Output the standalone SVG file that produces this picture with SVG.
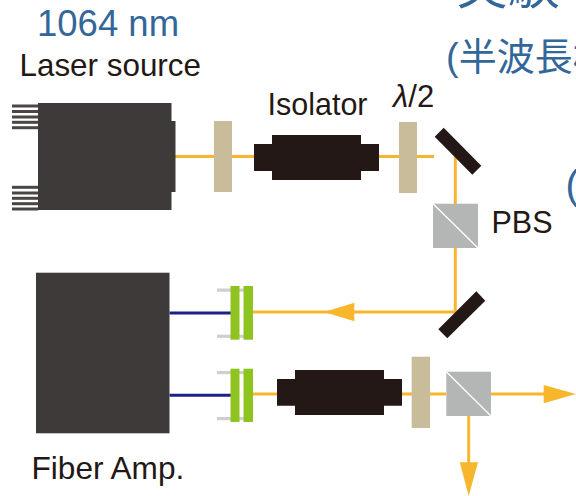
<svg xmlns="http://www.w3.org/2000/svg" width="576" height="496" viewBox="0 0 576 496">
<style>
text{font-family:"Liberation Sans",Arial,sans-serif;fill:#231815}
.blue{fill:#336699}
.cjk{font-family:"Liberation Sans","Noto Sans CJK JP",sans-serif;fill:#336699}
.body{fill:#3e3a39}
.dark{fill:#231815}
.plate{fill:#c8bc9b}
.cube{fill:#b4b6b5}
.split{stroke:#fff;stroke-width:1.3;fill:none}
.green{fill:#8fc31f}
.post{fill:#cfcfcf}
.beam{stroke:#f8b62d;stroke-width:3;fill:none}
.fiber{stroke:#1d2088;stroke-width:3;fill:none}
.head{fill:#f8b62d}
.pin{fill:#4a4645}
</style>
<rect width="576" height="496" fill="#fff"/>
<g id="connectors">
<path class="beam" d="M175 156.500H434M455.300 156.500V312H253"/>
<path class="beam" d="M253 394H446M491 394H545"/>
<path class="beam" d="M468.700 416V464"/>
<path class="head" d="M324 312L354.300 302.700V321.300Z"/>
<path class="head" d="M576 394L543.700 385V403.300Z"/>
<path class="head" d="M468.700 496L459.700 462.300H478Z"/>
<path class="fiber" d="M169.500 313H231M169.500 395.300H231"/>
</g>
<g id="title"><text class="blue" x="37" y="36" font-size="36.500">1064 nm</text></g>
<g id="cropped-title"><text class="cjk" x="456" y="4" font-size="52">実験</text></g>
<g id="cropped-subtitle"><text class="cjk" x="446" y="70" font-size="38">(半波長板</text></g>
<g id="cropped-paren"><text class="cjk" x="565.500" y="199" font-size="40">(</text></g>
<g id="laser-source">
<text x="19.500" y="76" font-size="31.400">Laser source</text>
<g class="pin">
<rect x="12" y="104.500" width="26" height="3"/><rect x="12" y="110" width="26" height="3"/><rect x="12" y="115.500" width="26" height="3"/><rect x="12" y="120.800" width="26" height="3"/><rect x="12" y="126.200" width="26" height="3"/>
<rect x="12" y="185.800" width="26" height="3"/><rect x="12" y="191.500" width="26" height="3"/><rect x="12" y="196.800" width="26" height="3"/><rect x="12" y="202.200" width="26" height="3"/><rect x="12" y="207.500" width="26" height="3"/>
</g>
<rect class="body" x="38" y="103" width="133.500" height="107"/>
<rect class="body" x="171" y="121" width="4.500" height="71"/>
</g>
<g id="plate-1"><rect class="plate" x="214" y="121" width="18" height="71"/></g>
<g id="isolator-1">
<text x="267.500" y="115" font-size="30.500">Isolator</text>
<path class="dark" d="M254 144H272V135H361V144H379V171H361V180H272V171H254Z"/>
</g>
<g id="half-wave-plate">
<text x="393" y="107" font-size="31"><tspan font-style="italic">λ</tspan>/2</text>
<rect class="plate" x="399" y="122" width="18" height="71"/>
</g>
<g id="mirror-1"><path class="dark" d="M434.700 136.700L443.700 127.700L481.300 165.700L472.300 174.700Z"/></g>
<g id="pbs-1">
<rect class="cube" x="433" y="203.700" width="45" height="44.300"/>
<path class="split" d="M433 203.700L478 248"/>
<text x="491.500" y="233" font-size="30.500">PBS</text>
</g>
<g id="mirror-2"><path class="dark" d="M438.300 329.300L447.300 338.300L485.300 300.700L476.300 291.300Z"/></g>
<g id="fiber-amp">
<rect class="body" x="36" y="272.700" width="133.500" height="160.600"/>
<text x="31.500" y="479" font-size="31.600">Fiber Amp.</text>
</g>
<g id="coupler-1">
<rect class="post" x="217" y="288.500" width="36" height="3.200"/><rect class="post" x="217" y="334.700" width="36" height="3.200"/>
<rect class="green" x="230.500" y="286" width="9" height="53.700"/><rect class="green" x="243.500" y="286" width="9.500" height="53.700"/>
</g>
<g id="coupler-2">
<rect class="post" x="217" y="371" width="36" height="3.200"/><rect class="post" x="217" y="417" width="36" height="3.200"/>
<rect class="green" x="230.500" y="368.700" width="9" height="53.300"/><rect class="green" x="243.500" y="368.700" width="9.500" height="53.300"/>
</g>
<g id="isolator-2"><path class="dark" d="M277 379H295V370H384V379H402V405.700H384V415H295V405.700H277Z"/></g>
<g id="plate-3"><rect class="plate" x="411.700" y="356.700" width="18.300" height="71.300"/></g>
<g id="pbs-2">
<rect class="cube" x="446.300" y="371.700" width="44.700" height="44.300"/>
<path class="split" d="M446.300 371.700L491 416"/>
</g>
</svg>
